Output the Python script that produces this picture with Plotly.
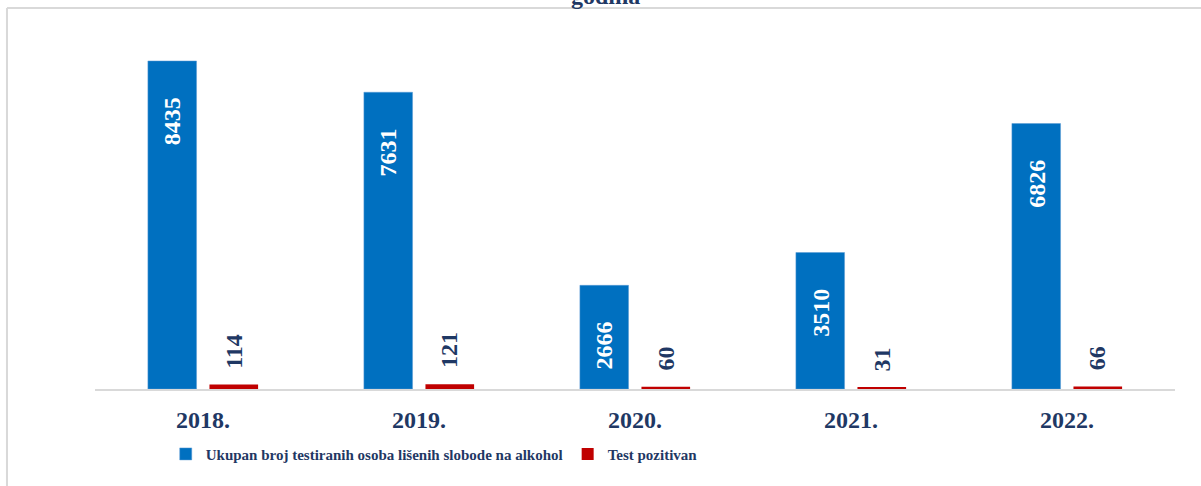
import plotly.graph_objects as go

years = ["2018.", "2019.", "2020.", "2021.", "2022."]
total_tested = [8435, 7631, 2666, 3510, 6826]
positive = [114, 121, 60, 31, 66]
series_names = ["Ukupan broj testiranih osoba lišenih slobode na alkohol", "Test pozitivan"]
title_text = "godina"

NAVY = "#1F3864"
BLUE = "#0070C0"
RED = "#C00000"
GRID = "#D9D9D9"
FONT = "Liberation Serif, Times New Roman, serif"

fig = go.Figure()
fig.add_trace(go.Bar(x=years, y=total_tested, name=series_names[0],
                     marker=dict(color=BLUE, line=dict(color="#5B9BD5", width=0.5))))
fig.add_trace(go.Bar(x=years, y=positive, name=series_names[1],
                     marker=dict(color=RED, line=dict(width=0))))

annotations = []
# category index positions (axis is categorical; numeric-looking labels would be read as indices)
for i, v in enumerate(total_tested):
    annotations.append(dict(x=i, y=v, xref="x", yref="y", text=str(v),
                            textangle=-90, showarrow=False, xshift=-30.75,
                            yanchor="top", yshift=-34,
                            font=dict(family=FONT, size=24, color="white", weight="bold")))
for i, v in enumerate(positive):
    annotations.append(dict(x=i, y=v, xref="x", yref="y", text=str(v),
                            textangle=-90, showarrow=False, xshift=30.75,
                            yanchor="bottom", yshift=14,
                            font=dict(family=FONT, size=24, color=NAVY, weight="bold")))
annotations.append(dict(x=0.473, y=1.080, xref="paper", yref="paper",
                        text=title_text, showarrow=False,
                        yanchor="bottom", xanchor="center",
                        font=dict(family=FONT, size=24, color=NAVY, weight="bold")))

shapes = [
    dict(type="line", xref="paper", yref="paper", x0=-0.0815, x1=1.03, y0=1.0886, y1=1.0886,
         line=dict(color=GRID, width=2)),
    dict(type="line", xref="paper", yref="paper", x0=-0.0815, x1=-0.0815, y0=1.0886, y1=-0.3,
         line=dict(color=GRID, width=2)),
]

fig.update_layout(
    width=1201, height=486,
    margin=dict(l=95, r=26, t=39, b=97),
    paper_bgcolor="white", plot_bgcolor="white",
    barmode="group", bargap=0.43, bargroupgap=0.21,
    annotations=annotations, shapes=shapes,
    xaxis=dict(type="category", showline=True, linecolor=GRID, linewidth=2,
               ticks="outside", ticklen=8, tickcolor="rgba(0,0,0,0)",
               tickfont=dict(family=FONT, size=24, color=NAVY, weight="bold"),
               showgrid=False),
    yaxis=dict(range=[0, 9000], visible=False, showgrid=False),
    legend=dict(orientation="h", x=0.0655, xanchor="left", y=-0.139, yanchor="top",
                font=dict(family=FONT, size=15, color=NAVY, weight="bold"), itemwidth=30,
                traceorder="normal"),
    font=dict(family=FONT, color=NAVY),
)

fig.write_html("out.html", config={"displayModeBar": False},
               post_script="document.body.style.margin='0';")
